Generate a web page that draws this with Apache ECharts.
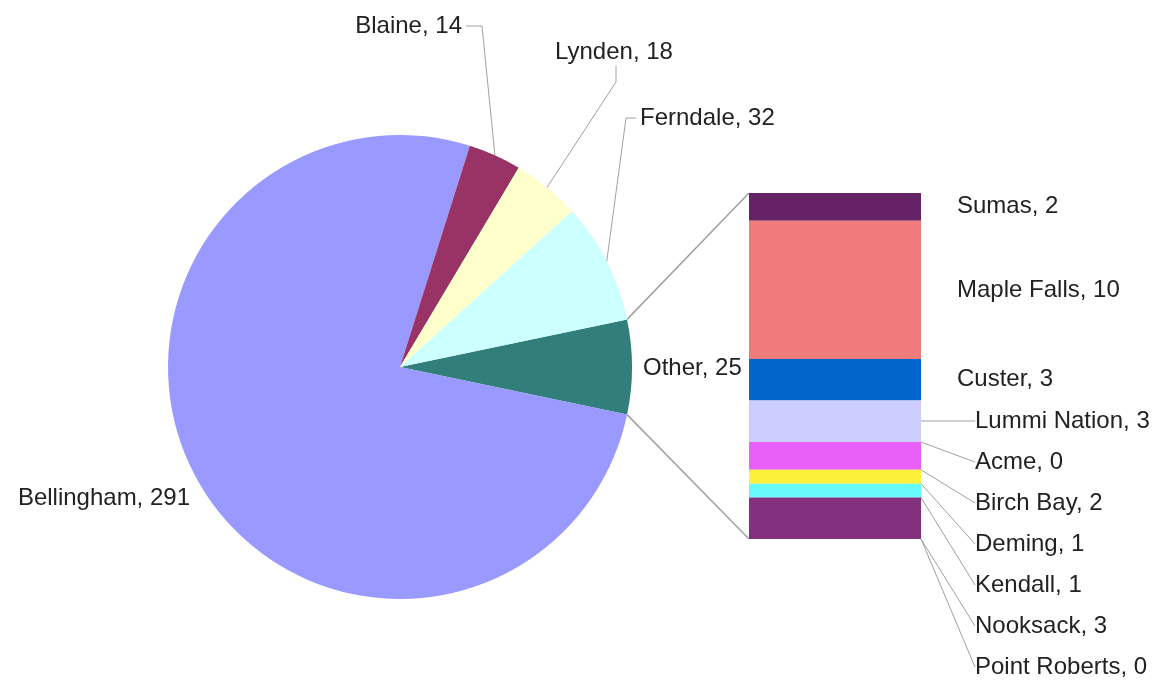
<!DOCTYPE html>
<html>
<head>
<meta charset="utf-8">
<script src="https://cdn.jsdelivr.net/npm/echarts@6/dist/echarts.min.js"></script>
<style>
  html, body { margin: 0; background: #fff; }
  #main { width: 1159px; height: 680px; }
</style>
</head>
<body>
<div id="main"></div>
<script>
// main pie
const pieNames = ['Bellingham', 'Blaine', 'Lynden', 'Ferndale'];
const pieValues = [291, 14, 18, 32];
const pieColors = ['#9999ff', '#993366', '#ffffcc', '#ccffff'];
const otherName = 'Other';
const otherColor = '#317e7b';

// breakdown of "Other"
const otherNames = ['Sumas', 'Maple Falls', 'Custer', 'Lummi Nation', 'Acme', 'Birch Bay', 'Deming', 'Kendall', 'Nooksack', 'Point Roberts'];
const otherValues = [2, 10, 3, 3, 0, 2, 1, 1, 3, 0];
const otherColors = ['#662266', '#f07b7b', '#0066cc', '#ccccff', '#000080', '#e960f9', '#fdf03a', '#66fafc', '#83307f', '#800000'];

const otherTotal = otherValues.reduce((a, b) => a + b, 0);
const pieTotal = pieValues.reduce((a, b) => a + b, 0) + otherTotal;

const textStyle = { fontFamily: 'Liberation Sans, Arial, sans-serif', fontSize: 24, color: '#222' };
const lineColor = '#a0a0a0';

// label spots (layout only)
const pieLabelPos = {
  Bellingham: { x: 190, y: 498, align: 'right' },
  Blaine: { x: 462, y: 26, align: 'right', bend: [482, 26], end: [466, 26] },
  Lynden: { x: 614, y: 52, align: 'center', bend: [616, 82], end: [616, 66] },
  Ferndale: { x: 640, y: 118, align: 'left', bend: [626, 118], end: [636, 118] },
  Other: { x: 643, y: 368, align: 'left' }
};

// "Other" first so it sits centred on the right, the rest run clockwise
const pieData = [{
  name: otherName,
  value: otherTotal,
  itemStyle: { color: otherColor },
  labelLine: { show: false }
}];
pieNames.forEach((n, i) => {
  pieData.push({
    name: n,
    value: pieValues[i],
    itemStyle: { color: pieColors[i] },
    labelLine: { show: n !== 'Bellingham' }
  });
});

const barSeries = otherNames.map((n, i) => ({
  type: 'bar',
  name: n,
  stack: 'other',
  xAxisIndex: 0,
  yAxisIndex: 0,
  barWidth: '100%',
  data: [otherValues[i]],
  itemStyle: { color: otherColors[i] },
  label: {
    show: true,
    position: 'right',
    distance: 36,
    formatter: '{a}, {c}',
    ...textStyle
  },
  labelLine: { show: i >= 3, lineStyle: { color: lineColor, width: 1 } },
  labelLayout: function (p) {
    const k = p.seriesIndex - 1;
    if (k < 3) return {};
    const right = p.rect.x + p.rect.width;
    const y = 421 + (k - 3) * 41;
    return {
      x: right + 54,
      y: y,
      align: 'left',
      verticalAlign: 'middle',
      labelLinePoints: [[right, p.rect.y + p.rect.height / 2], [right + 46, y], [right + 52, y]]
    };
  },
  emphasis: { disabled: true },
  animation: false
}));

const myChart = echarts.init(document.getElementById('main'));

const option = {
  animation: false,
  grid: { left: 749, top: 193, width: 172, height: 346 },
  xAxis: { type: 'category', data: [otherName], show: false },
  yAxis: { type: 'value', min: 0, max: otherTotal, inverse: true, show: false },
  series: [
    {
      type: 'pie',
      center: [400, 367],
      radius: 232,
      startAngle: otherTotal / pieTotal * 180,
      clockwise: true,
      avoidLabelOverlap: false,
      emphasis: { disabled: true },
      label: {
        show: true,
        position: 'outside',
        formatter: '{b}, {c}',
        ...textStyle
      },
      labelLine: { show: true, length: 20, length2: 10, lineStyle: { color: lineColor, width: 1 } },
      labelLayout: function (p) {
        const name = pieData[p.dataIndex].name;
        const pos = pieLabelPos[name];
        const out = { x: pos.x, y: pos.y, align: pos.align, verticalAlign: 'middle' };
        if (pos.bend && p.labelLinePoints) {
          out.labelLinePoints = [p.labelLinePoints[0], pos.bend, pos.end];
        }
        return out;
      },
      data: pieData
    }
  ].concat(barSeries)
};

myChart.setOption(option);

// connector lines from the "Other" slice to the bar
const lay = myChart.getModel().getSeriesByIndex(0).getData().getItemLayout(0);
const p1 = [lay.cx + lay.r * Math.cos(lay.startAngle), lay.cy + lay.r * Math.sin(lay.startAngle)];
const p2 = [lay.cx + lay.r * Math.cos(lay.endAngle), lay.cy + lay.r * Math.sin(lay.endAngle)];
const barLeft = option.grid.left;
const barTop = myChart.convertToPixel({ yAxisIndex: 0 }, 0);
const barBottom = myChart.convertToPixel({ yAxisIndex: 0 }, otherTotal);
myChart.setOption({
  graphic: [
    { type: 'line', shape: { x1: p1[0], y1: p1[1], x2: barLeft, y2: barTop }, style: { stroke: lineColor, lineWidth: 1.5 }, silent: true },
    { type: 'line', shape: { x1: p2[0], y1: p2[1], x2: barLeft, y2: barBottom }, style: { stroke: lineColor, lineWidth: 1.5 }, silent: true }
  ]
});
</script>
</body>
</html>
